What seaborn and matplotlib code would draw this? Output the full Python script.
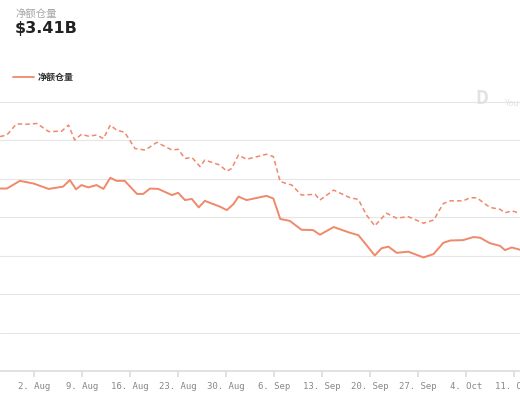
import matplotlib
matplotlib.use("Agg")
import matplotlib.pyplot as plt
import seaborn as sns
import pandas as pd

start = pd.Timestamp("2021-07-28")
solid_days = [0,1.0,2.9,4.9,7.1,9.2,10.2,11.1,11.9,12.9,14.1,15.1,16.1,17.0,18.2,20.0,20.9,21.9,23.1,25.1,26.0,27.0,28.0,29.0,29.9,32.1,33.1,34.1,34.8,36.0,38.9,39.9,40.9,42.3,44.0,45.7,46.7,48.7,51.1,52.3,53.5,54.7,55.7,56.7,57.9,59.6,61.8,63.3,64.7,65.7,67.6,69.1,70.1,71.5,73.0,73.7,74.7,75.9]
solid_vals = [4.74,4.74,4.94,4.87,4.73,4.79,4.96,4.72,4.83,4.77,4.83,4.73,5.02,4.94,4.94,4.60,4.60,4.74,4.73,4.57,4.63,4.44,4.47,4.25,4.42,4.27,4.18,4.34,4.53,4.44,4.55,4.48,3.95,3.90,3.67,3.66,3.54,3.74,3.59,3.53,3.27,3.00,3.19,3.23,3.07,3.10,2.95,3.04,3.33,3.39,3.40,3.48,3.46,3.32,3.25,3.14,3.21,3.15]
dash_days = [0,1.0,2.4,3.9,5.4,7.1,9.0,10.0,10.9,11.9,12.9,14.1,15.1,16.1,17.0,18.2,19.7,21.2,22.9,25.1,26.0,27.0,28.0,29.2,29.9,32.1,33.1,33.8,34.8,36.0,38.9,39.9,40.9,42.6,44.0,46.0,46.7,48.7,51.1,52.3,53.5,54.7,56.4,57.9,59.6,61.8,63.3,64.7,65.7,67.6,68.6,69.6,71.5,73.0,73.7,74.7,75.9]
dash_vals = [6.09,6.13,6.42,6.41,6.43,6.22,6.23,6.39,6.00,6.15,6.10,6.13,6.04,6.39,6.26,6.20,5.78,5.74,5.94,5.74,5.76,5.52,5.55,5.31,5.48,5.35,5.19,5.26,5.61,5.50,5.63,5.57,4.92,4.83,4.57,4.59,4.44,4.70,4.50,4.46,4.05,3.77,4.10,3.97,4.01,3.84,3.92,4.35,4.42,4.42,4.50,4.50,4.25,4.20,4.11,4.16,4.10]

title_small = "净额仓量"
title_big = "$3.41B"
legend_label = "净额仓量"

sns.set_theme(style="white")
plt.rcParams['font.family'] = ['Noto Sans CJK SC', 'DejaVu Sans']
color = "#f0886a"

fig = plt.figure(figsize=(5.2, 4.0), dpi=100)
ax = fig.add_axes([0.0, 0.0725, 1.0, 0.69])

ds = pd.DataFrame({"date": start + pd.to_timedelta(solid_days, unit="D"), "v": solid_vals})
dd = pd.DataFrame({"date": start + pd.to_timedelta(dash_days, unit="D"), "v": dash_vals})
sns.lineplot(data=dd, x="date", y="v", ax=ax, color=color, lw=1.1, linestyle=(0, (3, 2)))
sns.lineplot(data=ds, x="date", y="v", ax=ax, color=color, lw=1.4)

ticks = pd.date_range("2021-07-26", "2021-10-11", freq="7D")
ax.set_xticks(ticks)
ax.set_xticklabels([f"{t.day}. {t.strftime('%b')}" for t in ticks],
                   family="DejaVu Sans Mono", fontsize=6.5, color="#888888")
ax.set_xlim(start, start + pd.Timedelta(days=75.9))
ax.set_ylim(0, 7.17)
ax.set_yticks(range(1, 8))
ax.set_yticklabels([])
ax.tick_params(axis='y', length=0)
ax.grid(axis='y', color="#e6e6e6", lw=0.8)
ax.grid(axis='x', visible=False)
for s in ["top", "left", "right"]:
    ax.spines[s].set_visible(False)
ax.spines["bottom"].set_color("#dddddd")
ax.tick_params(axis='x', length=4, color="#dddddd", pad=4, bottom=True)
ax.set_xlabel("")
ax.set_ylabel("")

fig.text(15/520, 1-14/400, title_small, fontsize=7.5, color="#a8a8a8", va="center")
fig.text(15/520, 1-29/400, title_big, fontsize=11.5, color="#222222", va="center", family="DejaVu Sans", weight="bold")
fig.lines.append(plt.Line2D([13/520, 34/520], [1-77/400, 1-77/400], color=color, lw=1.3, transform=fig.transFigure))
fig.text(38/520, 1-77/400, legend_label, fontsize=6.5, color="#333333", va="center", weight="bold")
fig.text(475/520, 1-98/400, "D", fontsize=13, color="#e2e2e2", va="center", weight="bold")
fig.text(505/520, 1-104/400, "You", fontsize=6, color="#e2e2e2", va="center")

fig.savefig("out.png", dpi=100)
